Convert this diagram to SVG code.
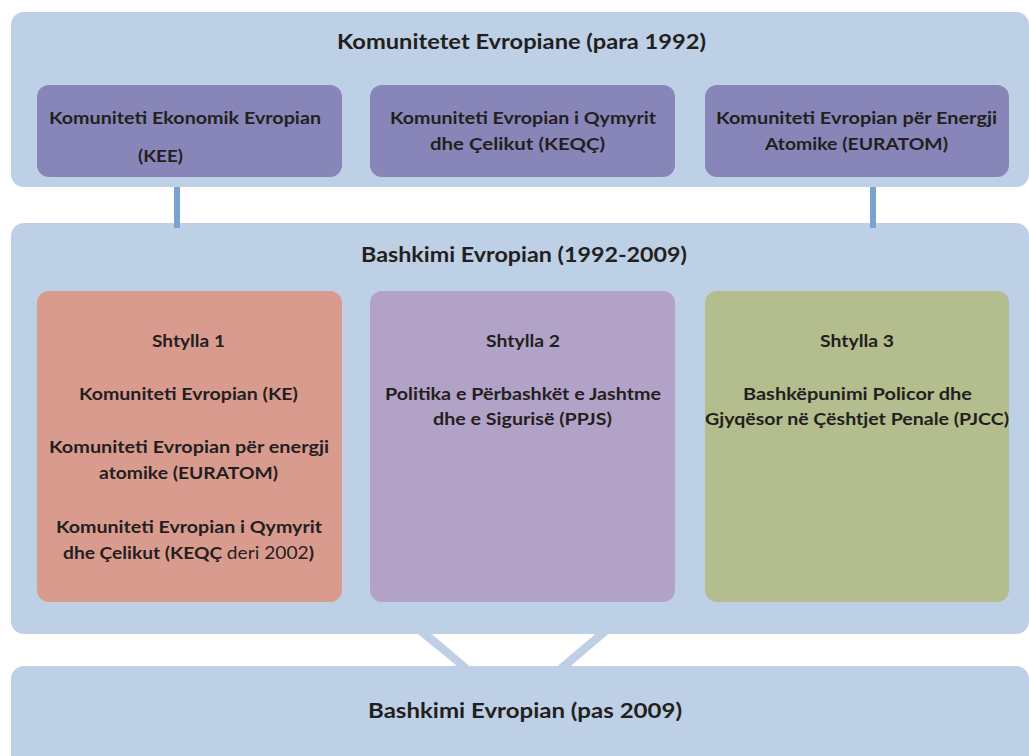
<svg xmlns="http://www.w3.org/2000/svg" width="1029" height="756" viewBox="0 0 1029 756">
<style>
.cont{fill:#BED0E5}
.box{fill:#8886B8}
.p1{fill:#DA9B8F}
.p2{fill:#B3A2C8}
.p3{fill:#B4BD8D}
text{font-family:Lato,"Open Sans","Liberation Sans",sans-serif;font-weight:bold;fill:#231F20;text-anchor:middle}
.t{font-size:21px}
.s{font-size:17.5px}
.reg{font-weight:normal}
.bar{fill:#7BA3D0}
.diag{fill:#BED0E5}
</style>
<rect width="1029" height="756" fill="#FFFFFF"/>
<g id="connectors">
<polygon class="diag" points="413,630 427,630 474,670 462,670"/>
<polygon class="diag" points="600,630 613,630 566,670 553,670"/>
</g>
<g id="komunitetet">
<rect class="cont" x="11" y="12" width="1018" height="175" rx="13"/>
<text class="t" x="521.5" y="49" textLength="369" lengthAdjust="spacingAndGlyphs">Komunitetet Evropiane (para 1992)</text>
</g>
<g id="kee">
<rect class="box" x="37" y="85" width="305" height="92" rx="12"/>
<text class="s" x="185" y="124" textLength="272" lengthAdjust="spacingAndGlyphs">Komuniteti Ekonomik Evropian</text>
<text class="s" x="160.5" y="162" textLength="45" lengthAdjust="spacingAndGlyphs">(KEE)</text>
</g>
<g id="keqc">
<rect class="box" x="370" y="85" width="305" height="92" rx="12"/>
<text class="s" x="523" y="124" textLength="266" lengthAdjust="spacingAndGlyphs">Komuniteti Evropian i Qymyrit</text>
<text class="s" x="517.5" y="150" textLength="175" lengthAdjust="spacingAndGlyphs">dhe Çelikut (KEQÇ)</text>
</g>
<g id="euratom">
<rect class="box" x="705" y="85" width="304" height="92" rx="12"/>
<text class="s" x="856.5" y="124" textLength="281" lengthAdjust="spacingAndGlyphs">Komuniteti Evropian për Energji</text>
<text class="s" x="856.5" y="150" textLength="183" lengthAdjust="spacingAndGlyphs">Atomike (EURATOM)</text>
</g>
<g id="be-1992">
<rect class="cont" x="11" y="223" width="1018" height="411" rx="13"/>
<text class="t" x="524" y="262" textLength="326" lengthAdjust="spacingAndGlyphs">Bashkimi Evropian (1992-2009)</text>
</g>
<g id="connectors-bars">
<rect class="bar" x="174" y="187" width="6" height="41"/>
<rect class="bar" x="870" y="187" width="6" height="41"/>
</g>
<g id="shtylla1">
<rect class="p1" x="37" y="291" width="305" height="311" rx="12"/>
<text class="s" x="188.5" y="347" textLength="73" lengthAdjust="spacingAndGlyphs">Shtylla 1</text>
<text class="s" x="188.5" y="400" textLength="219" lengthAdjust="spacingAndGlyphs">Komuniteti Evropian (KE)</text>
<text class="s" x="189" y="453" textLength="280" lengthAdjust="spacingAndGlyphs">Komuniteti Evropian për energji</text>
<text class="s" x="188.5" y="479" textLength="179" lengthAdjust="spacingAndGlyphs">atomike (EURATOM)</text>
<text class="s" x="189" y="533" textLength="266" lengthAdjust="spacingAndGlyphs">Komuniteti Evropian i Qymyrit</text>
<text class="s" x="188.5" y="559" textLength="251" lengthAdjust="spacingAndGlyphs">dhe Çelikut (KEQÇ <tspan class="reg">deri 2002</tspan>)</text>
</g>
<g id="shtylla2">
<rect class="p2" x="370" y="291" width="305" height="311" rx="12"/>
<text class="s" x="523" y="347" textLength="74" lengthAdjust="spacingAndGlyphs">Shtylla 2</text>
<text class="s" x="523" y="400" textLength="276" lengthAdjust="spacingAndGlyphs">Politika e Përbashkët e Jashtme</text>
<text class="s" x="522.5" y="425" textLength="179" lengthAdjust="spacingAndGlyphs">dhe e Sigurisë (PPJS)</text>
</g>
<g id="shtylla3">
<rect class="p3" x="705" y="291" width="304" height="311" rx="12"/>
<text class="s" x="857" y="347" textLength="74" lengthAdjust="spacingAndGlyphs">Shtylla 3</text>
<text class="s" x="857.5" y="400" textLength="229" lengthAdjust="spacingAndGlyphs">Bashkëpunimi Policor dhe</text>
<text class="s" x="857" y="425" textLength="304" lengthAdjust="spacingAndGlyphs">Gjyqësor në Çështjet Penale (PJCC)</text>
</g>
<g id="be-2009">
<rect class="cont" x="11" y="666" width="1018" height="110" rx="13"/>
<text class="t" x="525" y="718" textLength="314" lengthAdjust="spacingAndGlyphs">Bashkimi Evropian (pas 2009)</text>
</g>
</svg>
